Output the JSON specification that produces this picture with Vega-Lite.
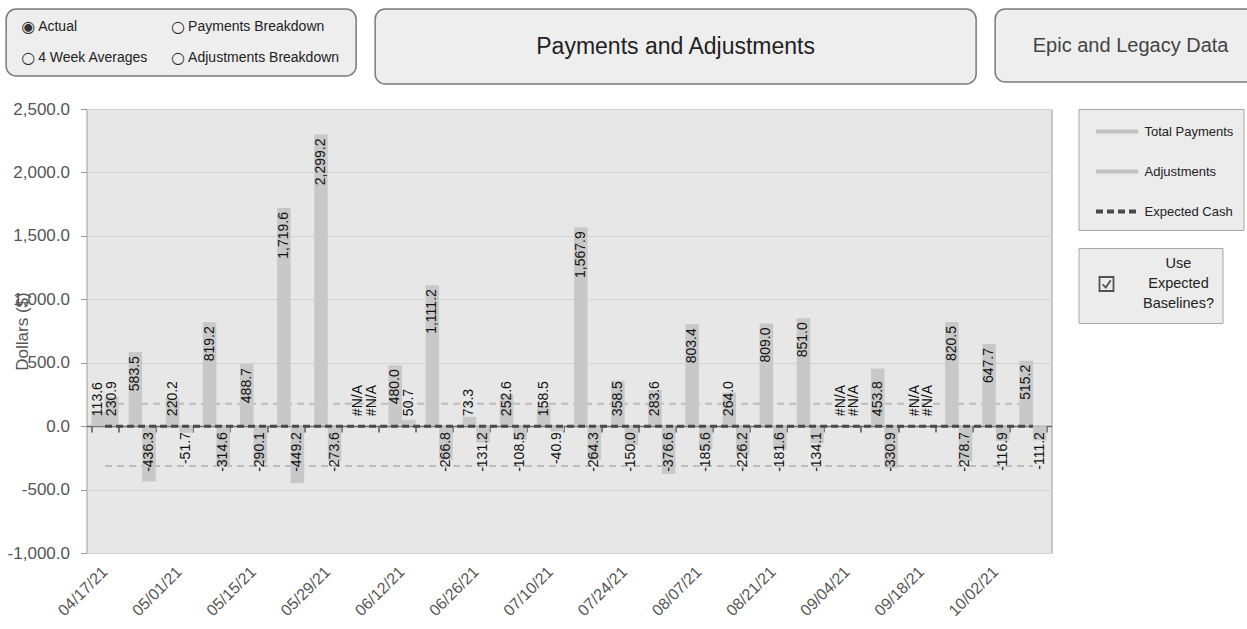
{
  "$schema": "https://vega.github.io/schema/vega-lite/v6.json",
  "background": "white",
  "padding": {"left": 5, "top": 8, "right": 0, "bottom": 0},
  "config": {
    "font": "Liberation Sans",
    "locale": {"number": {"decimal": ".", "thousands": ",", "grouping": [3], "currency": ["$", ""], "minus": "-"}},
    "view": {"stroke": null},
    "legend": {"layout": {"right": {"anchor": "start", "direction": "vertical", "margin": 18}}}
  },
  "datasets": {
    "weekly": [
      {"date": "04/17/21", "Total Payments": 113.6, "Adjustments": 230.9, "Expected Cash": 0, "Payments Baseline": 176, "Adjustments Baseline": -315},
      {"date": "04/24/21", "Total Payments": 583.5, "Adjustments": -436.3, "Expected Cash": 0, "Payments Baseline": 176, "Adjustments Baseline": -315},
      {"date": "05/01/21", "Total Payments": 220.2, "Adjustments": -51.7, "Expected Cash": 0, "Payments Baseline": 176, "Adjustments Baseline": -315},
      {"date": "05/08/21", "Total Payments": 819.2, "Adjustments": -314.6, "Expected Cash": 0, "Payments Baseline": 176, "Adjustments Baseline": -315},
      {"date": "05/15/21", "Total Payments": 488.7, "Adjustments": -290.1, "Expected Cash": 0, "Payments Baseline": 176, "Adjustments Baseline": -315},
      {"date": "05/22/21", "Total Payments": 1719.6, "Adjustments": -449.2, "Expected Cash": 0, "Payments Baseline": 176, "Adjustments Baseline": -315},
      {"date": "05/29/21", "Total Payments": 2299.2, "Adjustments": -273.6, "Expected Cash": 0, "Payments Baseline": 176, "Adjustments Baseline": -315},
      {"date": "06/05/21", "Total Payments": null, "Adjustments": null, "Expected Cash": 0, "Payments Baseline": 176, "Adjustments Baseline": -315},
      {"date": "06/12/21", "Total Payments": 480.0, "Adjustments": 50.7, "Expected Cash": 0, "Payments Baseline": 176, "Adjustments Baseline": -315},
      {"date": "06/19/21", "Total Payments": 1111.2, "Adjustments": -266.8, "Expected Cash": 0, "Payments Baseline": 176, "Adjustments Baseline": -315},
      {"date": "06/26/21", "Total Payments": 73.3, "Adjustments": -131.2, "Expected Cash": 0, "Payments Baseline": 176, "Adjustments Baseline": -315},
      {"date": "07/03/21", "Total Payments": 252.6, "Adjustments": -108.5, "Expected Cash": 0, "Payments Baseline": 176, "Adjustments Baseline": -315},
      {"date": "07/10/21", "Total Payments": 158.5, "Adjustments": -40.9, "Expected Cash": 0, "Payments Baseline": 176, "Adjustments Baseline": -315},
      {"date": "07/17/21", "Total Payments": 1567.9, "Adjustments": -264.3, "Expected Cash": 0, "Payments Baseline": 176, "Adjustments Baseline": -315},
      {"date": "07/24/21", "Total Payments": 358.5, "Adjustments": -150.0, "Expected Cash": 0, "Payments Baseline": 176, "Adjustments Baseline": -315},
      {"date": "07/31/21", "Total Payments": 283.6, "Adjustments": -376.6, "Expected Cash": 0, "Payments Baseline": 176, "Adjustments Baseline": -315},
      {"date": "08/07/21", "Total Payments": 803.4, "Adjustments": -185.6, "Expected Cash": 0, "Payments Baseline": 176, "Adjustments Baseline": -315},
      {"date": "08/14/21", "Total Payments": 264.0, "Adjustments": -226.2, "Expected Cash": 0, "Payments Baseline": 176, "Adjustments Baseline": -315},
      {"date": "08/21/21", "Total Payments": 809.0, "Adjustments": -181.6, "Expected Cash": 0, "Payments Baseline": 176, "Adjustments Baseline": -315},
      {"date": "08/28/21", "Total Payments": 851.0, "Adjustments": -134.1, "Expected Cash": 0, "Payments Baseline": 176, "Adjustments Baseline": -315},
      {"date": "09/04/21", "Total Payments": null, "Adjustments": null, "Expected Cash": 0, "Payments Baseline": 176, "Adjustments Baseline": -315},
      {"date": "09/11/21", "Total Payments": 453.8, "Adjustments": -330.9, "Expected Cash": 0, "Payments Baseline": 176, "Adjustments Baseline": -315},
      {"date": "09/18/21", "Total Payments": null, "Adjustments": null, "Expected Cash": 0, "Payments Baseline": 176, "Adjustments Baseline": -315},
      {"date": "09/25/21", "Total Payments": 820.5, "Adjustments": -278.7, "Expected Cash": 0, "Payments Baseline": 176, "Adjustments Baseline": -315},
      {"date": "10/02/21", "Total Payments": 647.7, "Adjustments": -116.9, "Expected Cash": 0, "Payments Baseline": 176, "Adjustments Baseline": -315},
      {"date": "10/09/21", "Total Payments": 515.2, "Adjustments": -111.2, "Expected Cash": 0, "Payments Baseline": 176, "Adjustments Baseline": -315}
    ]
  },
  "concat": [
    {
      "spacing": 17,
      "hconcat": [
        {
          "width": 350,
          "height": 67,
          "view": {"fill": "#eeeeee", "stroke": "#7a7a7a", "strokeWidth": 1.5, "cornerRadius": 10},
          "data": {"values": [
            {"col": "L", "row": "1", "sym": "◉", "label": "Actual"},
            {"col": "R", "row": "1", "sym": "○", "label": "Payments Breakdown"},
            {"col": "L", "row": "2", "sym": "○", "label": "4 Week Averages"},
            {"col": "R", "row": "2", "sym": "○", "label": "Adjustments Breakdown"}
          ]},
          "encoding": {
            "x": {"field": "col", "type": "nominal", "axis": null, "scale": {"type": "point", "padding": 0.6667, "align": 0.075}},
            "y": {"field": "row", "type": "nominal", "axis": null, "scale": {"type": "point", "padding": 0.547}}
          },
          "layer": [
            {"mark": {"type": "text", "align": "left", "baseline": "middle", "fontSize": 16, "font": "DejaVu Sans", "color": "#333333"}, "encoding": {"text": {"field": "sym"}}},
            {"mark": {"type": "text", "align": "left", "baseline": "middle", "dx": 17, "fontSize": 14, "color": "#222222"}, "encoding": {"text": {"field": "label"}}}
          ]
        },
        {
          "width": 601,
          "height": 75,
          "view": {"fill": "#eeeeee", "stroke": "#7a7a7a", "strokeWidth": 1.5, "cornerRadius": 10},
          "data": {"values": [{"t": "Payments and Adjustments"}]},
          "mark": {"type": "text", "fontSize": 23, "color": "#222222", "baseline": "middle"},
          "encoding": {"text": {"field": "t"}}
        },
        {
          "width": 329,
          "height": 73,
          "view": {"fill": "#eeeeee", "stroke": "#7a7a7a", "strokeWidth": 1.5, "cornerRadius": 10},
          "data": {"values": [{"t": "Epic and Legacy Data"}]},
          "mark": {"type": "text", "fontSize": 20, "color": "#444444", "baseline": "middle", "dx": -29},
          "encoding": {"text": {"field": "t"}}
        }
      ]
    },
    {
      "width": 965,
      "height": 444,
      "view": {"fill": "#e7e7e7", "stroke": "#9a9a9a"},
      "data": {"name": "weekly"},
      "layer": [
        {
          "transform": [{"fold": ["Payments Baseline", "Adjustments Baseline"], "as": ["bseries", "value"]}],
          "mark": {"type": "line", "strokeWidth": 2, "strokeDash": [7, 5], "color": "#bdbdbd"},
          "encoding": {
            "x": {"field": "date", "type": "nominal", "axis": null},
            "y": {"field": "value", "type": "quantitative"},
            "detail": {"field": "bseries"}
          }
        },
        {
          "transform": [{"fold": ["Total Payments", "Adjustments"], "as": ["series", "value"]}],
          "mark": {"type": "bar", "color": "#c8c8c8"},
          "encoding": {
            "x": {
              "field": "date", "type": "nominal",
              "scale": {"paddingInner": 0.27, "paddingOuter": 0.135},
              "axis": {
                "orient": "bottom",
                "values": ["04/17/21", "05/01/21", "05/15/21", "05/29/21", "06/12/21", "06/26/21", "07/10/21", "07/24/21", "08/07/21", "08/21/21", "09/04/21", "09/18/21", "10/02/21"],
                "labelAngle": -45, "labelAlign": "right", "labelBaseline": "middle", "labelPadding": 16,
                "labelFontSize": 16, "labelColor": "#555555", "ticks": false, "domain": false, "grid": false,
                "title": null, "labelOverlap": false, "labelBound": false
              }
            },
            "xOffset": {"field": "series", "type": "nominal", "scale": {"domain": ["Total Payments", "Adjustments"]}},
            "y": {
              "field": "value", "type": "quantitative",
              "scale": {"domain": [-1000, 2500], "nice": false},
              "axis": {
                "values": [-1000, -500, 0, 500, 1000, 1500, 2000, 2500],
                "format": ",.1f", "labelFontSize": 17, "labelColor": "#555555", "labelPadding": 11,
                "tickSize": 6, "tickColor": "#999999", "domain": false, "grid": true, "gridColor": "#d3d3d3",
                "title": "Dollars ($)", "titleFontSize": 17, "titleFontWeight": "normal", "titleColor": "#555555", "titleX": -55
              }
            }
          }
        },
        {
          "transform": [{"fold": ["Expected Cash"], "as": ["series", "value"]}],
          "mark": {"type": "line", "strokeWidth": 3},
          "encoding": {
            "x": {
              "field": "date", "type": "nominal",
              "axis": {
                "orient": "top", "offset": -317, "labels": false, "ticks": true, "tickBand": "extent",
                "tickSize": -6, "tickColor": "#555555", "tickWidth": 1.5, "domain": true, "domainColor": "#6a6a6a",
                "domainWidth": 1.5, "grid": false, "title": null
              }
            },
            "y": {"field": "value", "type": "quantitative"},
            "color": {
              "field": "series", "type": "nominal",
              "scale": {"domain": ["Total Payments", "Adjustments", "Expected Cash"], "range": ["#c2c2c2", "#c2c2c2", "#4a4a4a"]},
              "legend": {
                "title": null, "orient": "right", "offset": 27, "padding": 10,
                "symbolType": "M-2,0H2", "symbolSize": 441, "symbolStrokeWidth": 4, "symbolOffset": 16, "labelOffset": 15, "rowPadding": 19,
                "labelFontSize": 13, "labelColor": "#222222", "labelLimit": 300,
                "strokeColor": "#a8a8a8", "fillColor": "#ececec"
              }
            },
            "strokeDash": {
              "field": "series", "type": "nominal",
              "scale": {"domain": ["Total Payments", "Adjustments", "Expected Cash"], "range": [[1, 0], [1, 0], [7, 4]]}
            }
          }
        },
        {
          "transform": [{"filter": "false"}],
          "mark": {"type": "point", "filled": false, "strokeWidth": 1.6},
          "encoding": {
            "x": {"field": "date", "type": "nominal", "axis": null},
            "y": {"field": "Expected Cash", "type": "quantitative"},
            "color": {
              "field": "checkbox", "type": "nominal",
              "scale": {"domain": ["Use", "Expected", "Baselines?"], "range": ["transparent", "#111111", "transparent"]},
              "legend": {
                "title": null, "orient": "right", "offset": 27, "padding": 8,
                "symbolType": "M-1,-1H1V1H-1Z M-0.55,0.05L-0.1,0.5L0.6,-0.55", "symbolSize": 196,
                "symbolStrokeWidth": 1.8, "symbolOffset": 12, "labelOffset": 64, "labelAlign": "center", "rowPadding": -2,
                "labelFontSize": 14.5, "labelColor": "#222222", "labelLimit": 300,
                "strokeColor": "#a8a8a8", "fillColor": "#ececec"
              }
            }
          }
        },
        {
          "transform": [
            {"fold": ["Total Payments", "Adjustments"], "as": ["series", "value"]},
            {"filter": "datum.series == 'Total Payments' && isValid(datum.value) && datum.value >= 470"}
          ],
          "mark": {"type": "text", "angle": 270, "align": "right", "baseline": "middle", "dx": -4, "fontSize": 14, "color": "#111111"},
          "encoding": {
            "x": {"field": "date", "type": "nominal", "axis": null},
            "xOffset": {"field": "series", "type": "nominal", "scale": {"domain": ["Total Payments", "Adjustments"]}},
            "y": {"field": "value", "type": "quantitative"},
            "text": {"field": "value", "type": "quantitative", "format": ",.1f"}
          }
        },
        {
          "transform": [
            {"fold": ["Total Payments", "Adjustments"], "as": ["series", "value"]},
            {"filter": "isValid(datum.value) && datum.value > 0 && (datum.series == 'Adjustments' || datum.value < 470)"}
          ],
          "mark": {"type": "text", "angle": 270, "align": "left", "baseline": "middle", "dx": 10, "fontSize": 14, "color": "#111111"},
          "encoding": {
            "x": {"field": "date", "type": "nominal", "axis": null},
            "xOffset": {"field": "series", "type": "nominal", "scale": {"domain": ["Total Payments", "Adjustments"]}},
            "y": {"datum": 0, "type": "quantitative"},
            "text": {"field": "value", "type": "quantitative", "format": ",.1f"}
          }
        },
        {
          "transform": [
            {"fold": ["Total Payments", "Adjustments"], "as": ["series", "value"]},
            {"filter": "isValid(datum.value) && datum.value < 0"}
          ],
          "mark": {"type": "text", "angle": 270, "align": "right", "baseline": "middle", "dx": -6, "fontSize": 14, "color": "#111111"},
          "encoding": {
            "x": {"field": "date", "type": "nominal", "axis": null},
            "xOffset": {"field": "series", "type": "nominal", "scale": {"domain": ["Total Payments", "Adjustments"]}},
            "y": {"datum": 0, "type": "quantitative"},
            "text": {"field": "value", "type": "quantitative", "format": ",.1f"}
          }
        },
        {
          "transform": [
            {"fold": ["Total Payments", "Adjustments"], "as": ["series", "value"]},
            {"filter": "!isValid(datum.value)"}
          ],
          "mark": {"type": "text", "angle": 270, "align": "left", "baseline": "middle", "dx": 10, "fontSize": 14, "color": "#111111"},
          "encoding": {
            "x": {"field": "date", "type": "nominal", "axis": null},
            "xOffset": {"field": "series", "type": "nominal", "scale": {"domain": ["Total Payments", "Adjustments"]}},
            "y": {"datum": 0, "type": "quantitative"},
            "text": {"value": "#N/A"}
          }
        }
      ],
      "resolve": {"scale": {"color": "independent", "strokeDash": "independent"}, "axis": {"x": "independent"}}
    }
  ],
  "columns": 1,
  "center": true,
  "spacing": 14
}
